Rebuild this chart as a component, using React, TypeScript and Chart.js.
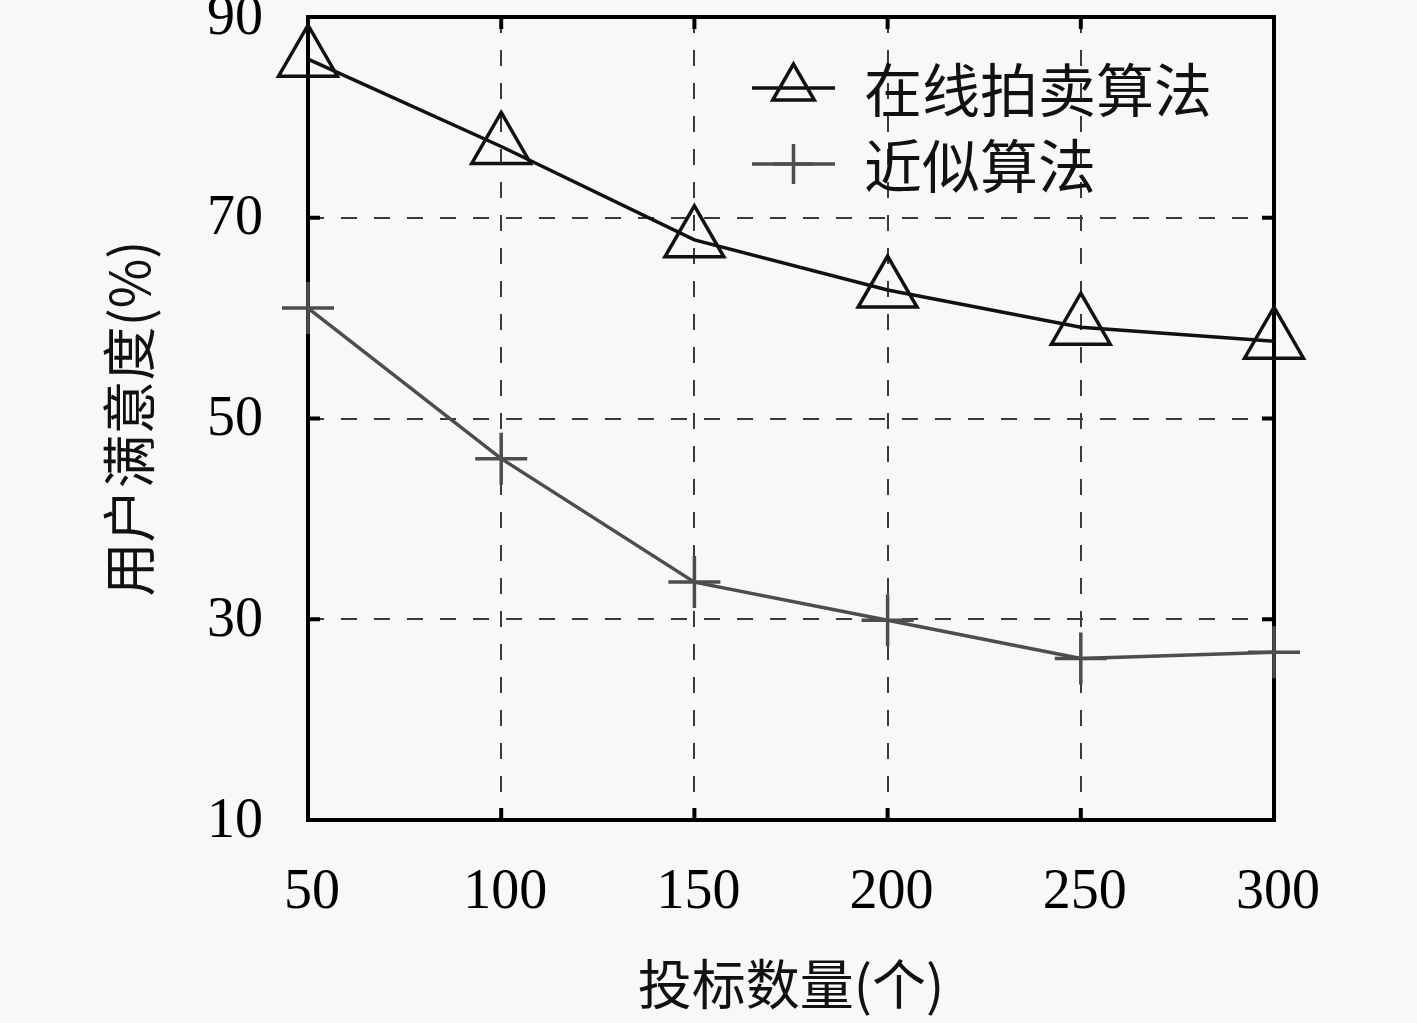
import { useEffect, useRef } from "react";
import { Chart, registerables } from "chart.js";
import { drawPoint } from "chart.js/helpers";

Chart.register(...registerables);

const bidCounts = ["50", "100", "150", "200", "250", "300"];
const auctionValues = [85.8, 77.1, 67.8, 62.8, 59.1, 57.7];
const approxValues = [61.0, 46.0, 33.7, 29.9, 26.1, 26.7];
const yTickValues = [10, 30, 50, 70, 90];
const seriesNames = ["在线拍卖算法", "近似算法"];
const xTitle = "投标数量(个)";
const yTitle = "用户满意度(%)";

const serif = "'Liberation Serif', 'DejaVu Serif', serif";
const cjk = "'Noto Sans CJK SC', sans-serif";

// box round the plot with short inward ticks, like the reference
const framePlugin = {
  id: "frame",
  beforeDatasetsDraw(chart: any) {
    const { ctx, chartArea: a, scales } = chart;
    ctx.save();
    ctx.strokeStyle = "#000";
    ctx.lineWidth = 4;
    ctx.strokeRect(a.left, a.top, a.right - a.left, a.bottom - a.top);
    ctx.beginPath();
    scales.y.ticks.forEach((t: any) => {
      const y = scales.y.getPixelForValue(t.value);
      ctx.moveTo(a.left, y);
      ctx.lineTo(a.left + 12, y);
      ctx.moveTo(a.right, y);
      ctx.lineTo(a.right - 12, y);
    });
    scales.x.ticks.forEach((_t: any, i: number) => {
      const x = scales.x.getPixelForTick(i);
      ctx.moveTo(x, a.bottom);
      ctx.lineTo(x, a.bottom - 12);
      ctx.moveTo(x, a.top);
      ctx.lineTo(x, a.top + 12);
    });
    ctx.stroke();
    ctx.restore();
  },
};

// legend with a line sample and marker, drawn inside the plot
const legendRadius = [24, 20];
const legendPlugin = {
  id: "lineLegend",
  afterDraw(chart: any) {
    const { ctx, chartArea: a } = chart;
    const x0 = a.left + 444;
    const x1 = a.left + 527;
    chart.data.datasets.forEach((ds: any, i: number) => {
      const y = a.top + 71 + i * 76;
      ctx.save();
      ctx.strokeStyle = ds.borderColor;
      ctx.fillStyle = "rgba(0,0,0,0)";
      ctx.lineWidth = 3.5;
      ctx.beginPath();
      ctx.moveTo(x0, y);
      ctx.lineTo(x1, y);
      ctx.stroke();
      drawPoint(
        ctx,
        { pointStyle: ds.pointStyle, radius: legendRadius[i], borderWidth: 3.5, rotation: 0 } as any,
        (x0 + x1) / 2,
        y,
      );
      ctx.fillStyle = "#111";
      ctx.font = `58px ${cjk}`;
      ctx.textAlign = "left";
      ctx.textBaseline = "middle";
      ctx.fillText(ds.label, a.left + 556, y + 2);
      ctx.restore();
    });
  },
};

const App = () => {
  const canvasRef = useRef<HTMLCanvasElement>(null);

  useEffect(() => {
    document.body.style.margin = "0";
    document.body.style.background = "#f8f8f8";
    if (!canvasRef.current) return;

    const chart = new Chart(canvasRef.current, {
      type: "line",
      data: {
        labels: bidCounts,
        datasets: [
          {
            label: seriesNames[0],
            data: auctionValues,
            borderColor: "#111",
            borderWidth: 3.5,
            pointStyle: "triangle",
            pointRadius: 34,
            pointBorderWidth: 3.5,
            pointBorderColor: "#111",
            pointBackgroundColor: "rgba(0,0,0,0)",
            tension: 0,
            fill: false,
            clip: false as any,
          },
          {
            label: seriesNames[1],
            data: approxValues,
            borderColor: "#4d4d4d",
            borderWidth: 3.5,
            pointStyle: "cross",
            pointRadius: 26,
            pointBorderWidth: 3.5,
            pointBorderColor: "#4d4d4d",
            pointBackgroundColor: "rgba(0,0,0,0)",
            tension: 0,
            fill: false,
            clip: false as any,
          },
        ],
      },
      options: {
        animation: false,
        responsive: true,
        maintainAspectRatio: false,
        layout: { autoPadding: false, padding: { left: 0, right: 143, top: 17, bottom: 0 } },
        scales: {
          x: {
            offset: false,
            grid: {
              color: (c: any) =>
                c.index === 0 || c.index === bidCounts.length - 1 ? "rgba(0,0,0,0)" : "#3a3a3a",
              lineWidth: 2,
              drawTicks: false,
            },
            border: { display: false, dash: [16, 17] },
            ticks: {
              color: "#000",
              padding: 40,
              labelOffset: 4,
              maxRotation: 0,
              font: { family: serif, size: 56 },
            },
            title: {
              display: true,
              text: xTitle,
              color: "#111",
              font: { family: cjk, size: 54 },
              padding: { top: 0, bottom: 6 },
            },
            afterFit: (s: any) => {
              s.height = 203;
              s.paddingLeft = 0;
              s.paddingRight = 0;
            },
          },
          y: {
            min: 10,
            max: 90,
            afterBuildTicks: (s: any) => {
              s.ticks = yTickValues.map((v) => ({ value: v }));
            },
            grid: {
              color: (c: any) =>
                c.tick && (c.tick.value === 10 || c.tick.value === 90) ? "rgba(0,0,0,0)" : "#3a3a3a",
              lineWidth: 2,
              drawTicks: false,
            },
            border: { display: false, dash: [16, 17] },
            ticks: {
              color: "#000",
              padding: 45,
              labelOffset: 2,
              font: { family: serif, size: 56 },
            },
            title: {
              display: true,
              text: yTitle,
              color: "#111",
              font: { family: cjk, size: 54 },
              padding: { top: 97, bottom: 0 },
            },
            afterFit: (s: any) => {
              s.width = 308;
              s.paddingTop = 0;
              s.paddingBottom = 0;
            },
          },
        },
        plugins: {
          legend: { display: false },
          tooltip: { enabled: false },
        },
      },
      plugins: [framePlugin, legendPlugin],
    });

    return () => {
      chart.destroy();
    };
  }, []);

  return (
    <div style={{ position: "relative", width: 1417, height: 1023, background: "#f8f8f8" }}>
      <canvas ref={canvasRef}></canvas>
    </div>
  );
};

export default App;
